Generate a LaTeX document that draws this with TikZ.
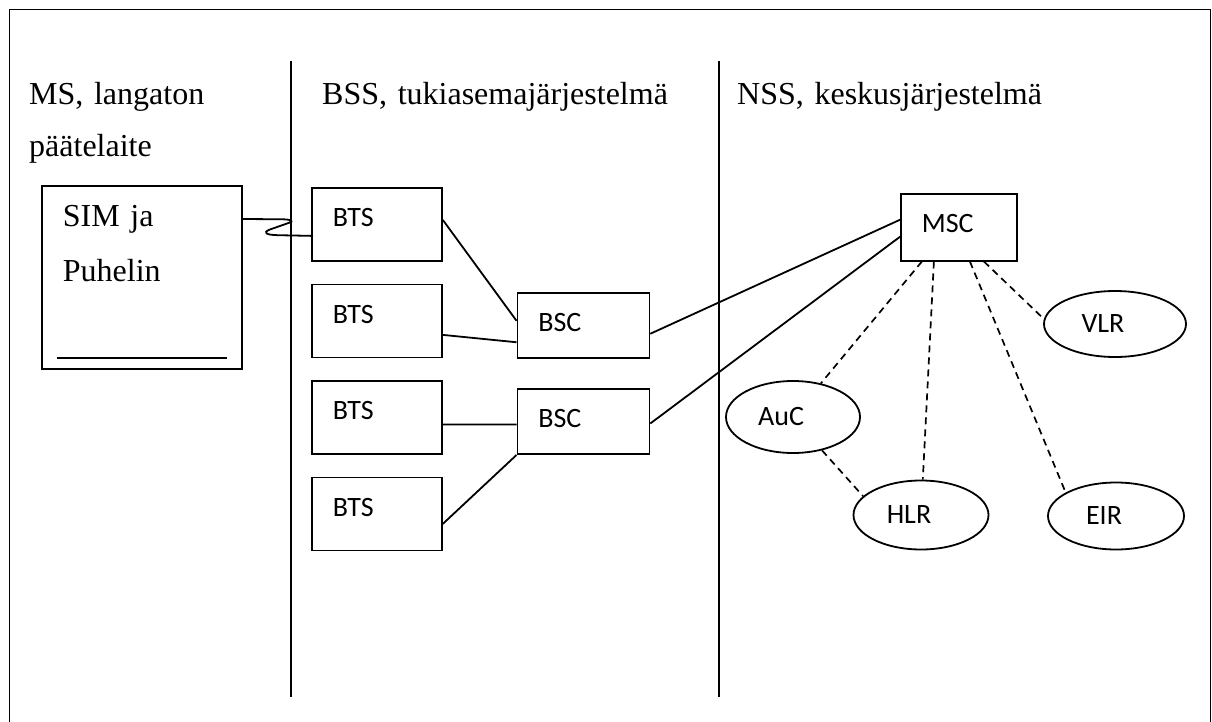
\documentclass[tikz,border=0pt]{standalone}
\usepackage{fontspec}
\setmainfont{Liberation Serif}
\newfontfamily\calibri{Carlito}
\usetikzlibrary{shapes.geometric}

\begin{document}
\begin{tikzpicture}[x=1pt,y=-1pt,
	every node/.style={inner sep=0pt},
	head/.style={anchor=base west, text width=420, align=left, font=\fontsize{32}{52}\selectfont},
	unit/.style={draw, line width=1.8pt, anchor=north west, text width=88, inner xsep=21, inner ysep=0pt,
		align=left, text height=38.7, text depth=34.3, font=\fontsize{28}{32}\calibri},
	reg/.style={draw, ellipse, line width=1.8pt, minimum width=136, minimum height=69,
		font=\fontsize{28}{32}\calibri, execute at end node={\hspace{24pt}}},
	link/.style={line width=1.8pt},
	sig/.style={line width=1.7pt, dash pattern=on 7pt off 5pt}]
	\useasboundingbox (0,0) rectangle (1212,722);
	
	% Frame and dividers
	\draw[link] (9.5,722) -- (9.5,9.5) -- (1210.5,9.5) -- (1210.5,722);
	\draw[link] (291,61) -- (291,697);
	\draw[link] (719,61) -- (719,697);
	
	% Headers
	\node[head] (ms) at (29,105) {MS, langaton\\päätelaite};
	\node[head] (bss) at (322,105) {BSS, tukiasemajärjestelmä};
	\node[head] (nss) at (737,105) {NSS, keskusjärjestelmä};
	
	% Mobile station
	\node[draw, line width=1.8pt, anchor=north west, text width=158, inner xsep=21, inner ysep=0pt, align=left,
		text height=41, text depth=142, font=\fontsize{32}{55}\selectfont] (sim) at (41,185) {SIM ja\\Puhelin};
	\draw[link] ([xshift=16,yshift=12]sim.south west) -- ([xshift=-16,yshift=12]sim.south east);
	
	% Base stations
	\foreach \i/\y in {1/187,2/283.5,3/380,4/476.5}
	\node[unit] (bts\i) at (311,\y) {BTS};
	\node[unit, text width=90, text depth=26] (bsc1) at (516.5,292) {BSC};
	\node[unit, text width=90, text depth=26.5] (bsc2) at (516.5,388) {BSC};
	
	% Switching centre and registers
	\node[unit, text width=74, text depth=28] (msc) at (900,193) {MSC};
	\node[reg, minimum width=142, minimum height=66] (vlr) at (1115,324) {VLR};
	\node[reg, minimum width=134, minimum height=72] (auc) at (793,417) {AuC};
	\node[reg, minimum width=135] (hlr) at (921,515) {HLR};
	\node[reg, minimum height=67] (eir) at (1116,516) {EIR};
	
	% Radio link
	\draw[link] ([yshift=-34]sim.north east) -- (283,219.3) .. controls (292,219.5) and (294,221.5) .. (289,222.8)
		-- (270,229.5) .. controls (262,232.5) and (266,235) .. (278,235.2) -- ([xshift=2,yshift=-11.5]bts1.west);
	
	% Wired links
	\draw[link] ([yshift=4.5]bts1.east) -- ([yshift=4.5]bsc1.west);
	\draw[link] ([yshift=-14]bts2.east) -- ([yshift=-17]bsc1.west);
	\draw[link] ([yshift=-7]bts3.east) -- ([yshift=-3]bsc2.west);
	\draw[link] ([yshift=-10]bts4.east) -- (bsc2.south west);
	\draw[link] ([yshift=-8.5]bsc1.east) -- ([yshift=7.5]msc.west);
	\draw[link] ([yshift=-2]bsc2.east) -- ([yshift=-9.5]msc.west);
	
	% Signalling
	\draw[sig] ([xshift=-37]msc.south) -- (auc);
	\draw[sig] ([xshift=-25]msc.south) -- (hlr);
	\draw[sig] ([xshift=11]msc.south) -- (eir.155);
	\draw[sig] ([xshift=25]msc.south) -- (vlr.176);
	\draw[sig] (auc.-49) -- (hlr.162);
\end{tikzpicture}
\end{document}
